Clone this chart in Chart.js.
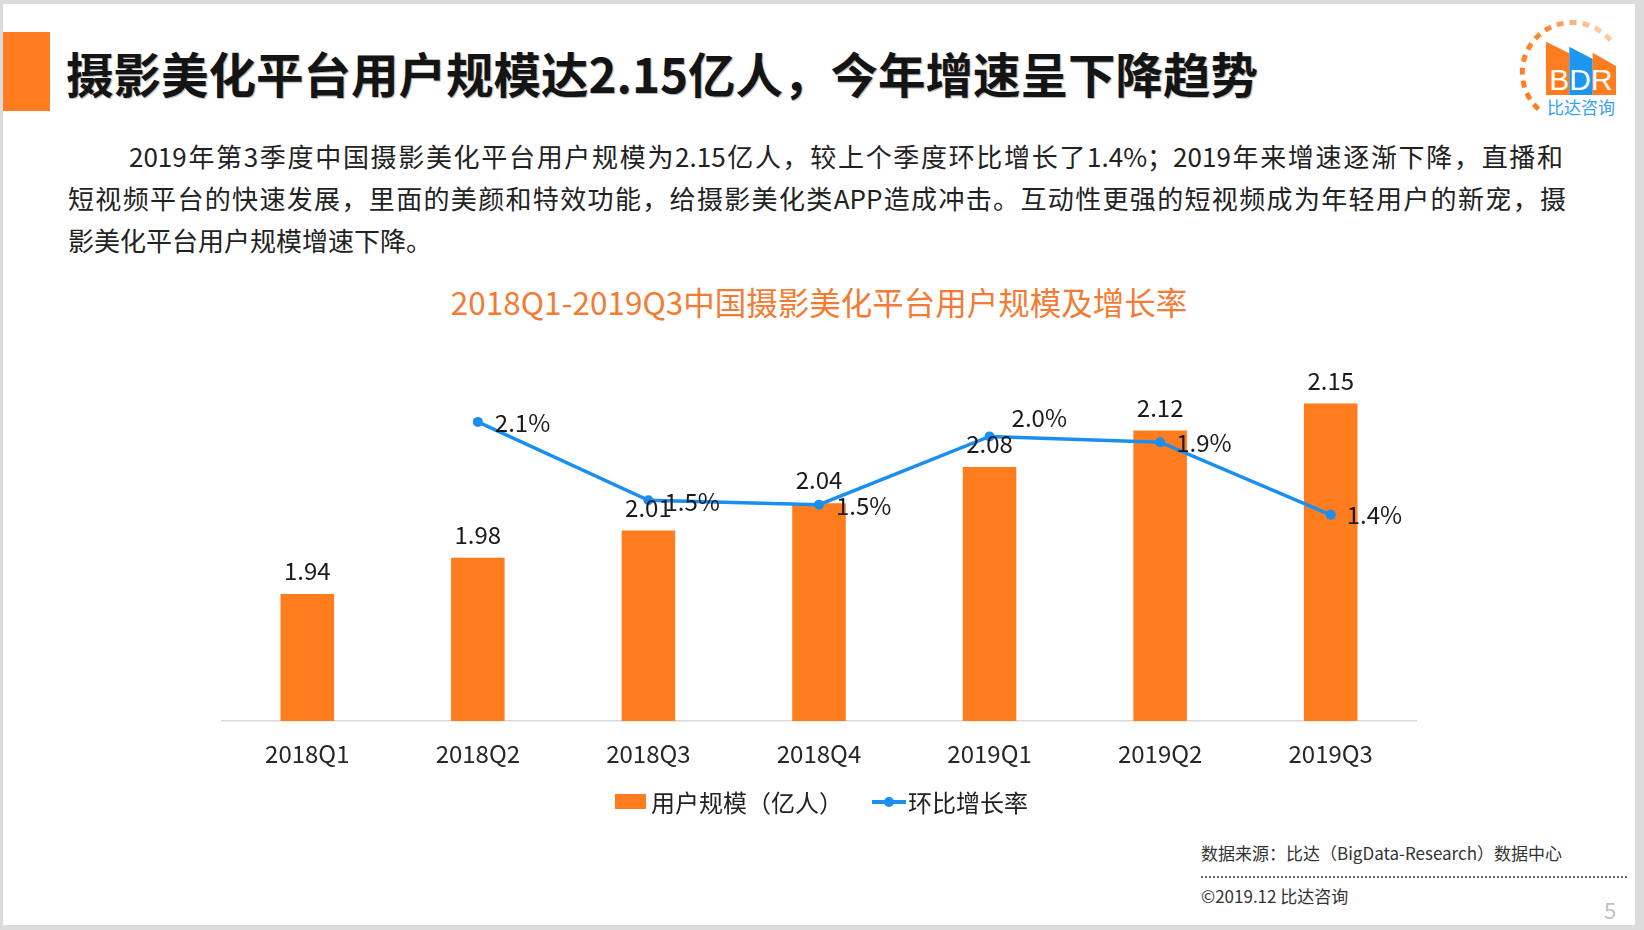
<!DOCTYPE html>
<html><head><meta charset="utf-8">
<script src="https://cdn.jsdelivr.net/npm/chart.js@4.4.1/dist/chart.umd.min.js"></script>
<style>
html,body{margin:0;padding:0;}
body{width:1644px;height:930px;background:#dcdcdc;position:relative;overflow:hidden;font-family:"Noto Sans CJK SC","Noto Sans",sans-serif;color:#1f1f1f;}
#slide{position:absolute;left:3px;top:4px;width:1632px;height:921px;background:#fff;}
.abs{position:absolute;white-space:nowrap;}
.para{position:absolute;font-size:26px;line-height:42px;color:#222;text-align:justify;text-align-last:justify;}
#chartWrap{position:absolute;left:0;top:300px;width:1644px;height:500px;}
</style></head>
<body>
<div id="slide"></div>
<div class="abs" style="left:3px;top:32px;width:47px;height:79px;background:#FF7D1E;"></div>
<div class="abs" style="left:66px;top:49px;font-size:47.5px;line-height:48px;font-weight:700;color:#141414;text-shadow:1px 1px 1px rgba(0,0,0,0.3);">摄影美化平台用户规模达2.15亿人，今年增速呈下降趋势</div>

<svg class="abs" style="left:1500px;top:0px;" width="144" height="130" viewBox="1500 0 144 130">
  <defs>
    <linearGradient id="fade" x1="0" y1="1" x2="1" y2="0">
      <stop offset="0" stop-color="#FF7D1E"/>
      <stop offset="0.6" stop-color="#FF8A33"/>
      <stop offset="1" stop-color="#FFE2CC"/>
    </linearGradient>
  </defs>
  <path d="M1538.5 109.2 A50 50 0 1 1 1613 43.3" fill="none" stroke="url(#fade)" stroke-width="5" stroke-dasharray="7 6"/>
  <polygon points="1546,41.7 1569.3,53.3 1569.3,95 1546,95" fill="#FF7D1E"/>
  <polygon points="1569.3,46.7 1592.7,59 1592.7,95 1569.3,95" fill="#1E96F0"/>
  <polygon points="1592.7,52.7 1616,66 1616,95 1592.7,95" fill="#FF7D1E"/>
  <text x="1581" y="90" text-anchor="middle" font-family="Liberation Sans, Arial, sans-serif" font-size="30" fill="#fff">BDR</text>
  <text x="1581" y="114" text-anchor="middle" font-family="Noto Sans CJK SC" font-size="17" fill="#3AA0F0">比达咨询</text>
</svg>

<div class="para" style="left:129px;top:135px;width:1434px;">2019年第3季度中国摄影美化平台用户规模为2.15亿人，较上个季度环比增长了1.4%；2019年来增速逐渐下降，直播和</div>
<div class="para" style="left:68px;top:177px;width:1498px;">短视频平台的快速发展，里面的美颜和特效功能，给摄影美化类APP造成冲击。互动性更强的短视频成为年轻用户的新宠，摄</div>
<div class="para" style="left:68px;top:219px;text-align-last:left;">影美化平台用户规模增速下降。</div>

<div class="abs" style="left:219px;top:284px;width:1200px;text-align:center;font-size:31.5px;line-height:34px;color:#F37B33;">2018Q1-2019Q3中国摄影美化平台用户规模及增长率</div>

<div id="chartWrap"><canvas id="c" width="1644" height="500"></canvas></div>

<div class="abs" style="left:615px;top:794px;width:31px;height:15px;background:#FF7D1E;"></div>
<div class="abs" id="leg1" style="left:651px;top:788px;font-size:24px;line-height:28px;color:#222;"></div>
<div class="abs" style="left:872px;top:800px;width:34px;height:4px;background:#1B8FF0;"></div>
<div class="abs" style="left:884px;top:797px;width:10px;height:10px;border-radius:50%;background:#1B8FF0;"></div>
<div class="abs" id="leg2" style="left:908px;top:788px;font-size:24px;line-height:28px;color:#222;"></div>

<div class="abs" style="left:1201px;top:843px;font-size:17px;line-height:20px;color:#333;">数据来源：比达（BigData-Research）数据中心</div>
<div class="abs" style="left:1201px;top:876px;width:426px;height:0;border-top:2px dotted #666;"></div>
<div class="abs" style="left:1201px;top:886px;font-size:17px;line-height:20px;color:#333;">©2019.12 比达咨询</div>
<div class="abs" style="left:1604px;top:896px;font-size:22px;line-height:26px;color:#c0c0c0;">5</div>

<script>
const categories = ['2018Q1','2018Q2','2018Q3','2018Q4','2019Q1','2019Q2','2019Q3'];
const userScale = [1.94, 1.98, 2.01, 2.04, 2.08, 2.12, 2.15];
const growthRate = [null, 2.06, 1.52, 1.49, 1.96, 1.92, 1.42];
const seriesNames = ['用户规模（亿人）', '环比增长率'];

document.getElementById('leg1').textContent = seriesNames[0];
document.getElementById('leg2').textContent = seriesNames[1];

const ORANGE = '#FF7D1E';
const BLUE = '#1B8FF0';
const FONT = '"Noto Sans CJK SC", "Noto Sans", sans-serif';

// label placement offsets for the growth-rate labels (style only)
const rateLabelOffset = [null, [17, 1], [16, 2], [17, 1], [22, -19], [16, 1], [16, 0]];

const labelPlugin = {
  id: 'valueLabels',
  afterDatasetsDraw(chart) {
    const ctx = chart.ctx;
    ctx.save();
    ctx.font = '24px ' + FONT;
    ctx.fillStyle = '#1a1a1a';
    const barMeta = chart.getDatasetMeta(0);
    barMeta.data.forEach((el, i) => {
      ctx.textAlign = 'center';
      ctx.textBaseline = 'middle';
      ctx.fillText(userScale[i].toFixed(2), el.x, el.y - 23);
    });
    const lineMeta = chart.getDatasetMeta(1);
    lineMeta.data.forEach((el, i) => {
      if (growthRate[i] == null) return;
      const o = rateLabelOffset[i];
      ctx.textAlign = 'left';
      ctx.textBaseline = 'middle';
      ctx.fillText(growthRate[i].toFixed(1) + '%', el.x + o[0], el.y + o[1]);
    });
    ctx.restore();
  }
};

Chart.defaults.font.family = FONT;
new Chart(document.getElementById('c'), {
  type: 'bar',
  data: {
    labels: categories,
    datasets: [
      {
        type: 'bar', label: seriesNames[0], data: userScale,
        backgroundColor: ORANGE, borderWidth: 0,
        barPercentage: 0.314, categoryPercentage: 1.0,
        yAxisID: 'y', order: 2
      },
      {
        type: 'line', label: seriesNames[1], data: growthRate,
        borderColor: BLUE, backgroundColor: BLUE, borderWidth: 3.5,
        pointRadius: 5, pointHoverRadius: 5, pointBackgroundColor: BLUE, pointBorderWidth: 0,
        tension: 0, spanGaps: false, yAxisID: 'y1', order: 1
      }
    ]
  },
  options: {
    responsive: false,
    animation: false,
    devicePixelRatio: 1,
    layout: { padding: { left: 222, right: 228, top: 58, bottom: 19 } },
    plugins: { legend: { display: false }, tooltip: { enabled: false } },
    scales: {
      x: {
        grid: { display: false, drawTicks: false },
        border: { display: true, color: '#d9d9d9', width: 1.5 },
        ticks: { font: { size: 24 }, color: '#262626', padding: 18 },
        afterFit: (s) => { s.height = 60; }
      },
      y: { display: false, min: 1.8, max: 2.2 },
      y1: { display: false, min: 0, max: 2.5, position: 'right' }
    }
  },
  plugins: [labelPlugin]
});
</script>
</body></html>
